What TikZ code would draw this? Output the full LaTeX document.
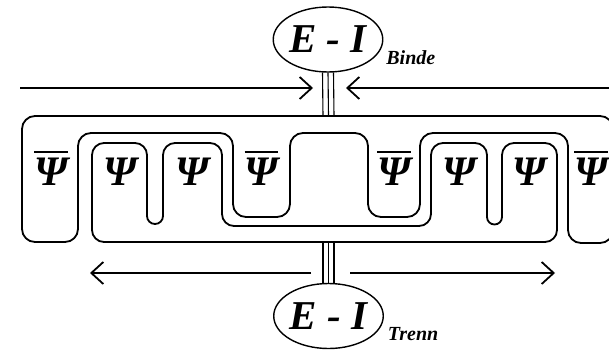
\documentclass[tikz,border=0pt]{standalone}
\usepackage{fontspec}
\setmainfont{Liberation Serif}
\usetikzlibrary{arrows.meta,shapes.geometric}

\newcommand\eifont{\fontsize{41}{41}\selectfont\bfseries\itshape}
\newcommand\psifont{\fontsize{42}{42}\selectfont\bfseries\itshape}
\newcommand\tagfont{\fontsize{20}{20}\selectfont\bfseries\itshape}
\newcommand\psibar{\vbox{\hrule height 2pt\kern 4.5pt\hbox{Ψ}}}

\begin{document}
\begin{tikzpicture}[x=1pt,y=-1pt,line width=1.8pt]
    \tikzstyle{eiring}=[ellipse,draw,line width=1.4pt,minimum width=108pt,
                        minimum height=65pt,inner sep=0pt,font=\eifont]
    \tikzstyle{tag}=[anchor=base west,inner sep=0pt,font=\tagfont]
    \tikzstyle{psi}=[anchor=base,inner sep=0pt,font=\psifont]
    \tikzstyle{strand}=[line width=1.1pt]
    \tikzstyle{pull}=[-{Straight Barb[length=12pt,width=22pt]}]

    \useasboundingbox (0,0) rectangle (609,351);
    \clip (0,0) rectangle (609,351);

    % Outer loop with the three dips
    \draw[rounded corners=13pt]
        (22,116) -- (613,116) -- (613,243) -- (568,243) -- (568,133)
        -- (420,133) -- (420,217) -- (368,217) -- (368,133)
        -- (290,133) -- (290,217) -- (233,217) -- (233,133)
        -- (78,133) -- (78,242) -- (22,242) -- cycle;

    % Inner loop: outer run, middle run, and the two narrow folds
    \draw[rounded corners=12pt]
        (147,216) -- (147,143) -- (92,143) -- (92,242)
        -- (557,242) -- (557,143) -- (502,143) -- (502,217);
    \draw[rounded corners=12pt]
        (163,216) -- (163,143) -- (222,143) -- (222,226) -- (431,226)
        -- (431,143) -- (487,143) -- (487,217);
    \draw (147,216) arc[start angle=180,end angle=360,radius=8pt];
    \draw (487,217) arc[start angle=180,end angle=360,radius=7.5pt];

    % Wave function labels
    \node[psi] (psiA) at (51,185)    {\psibar};
    \node[psi] (psiB) at (120,185)   {Ψ};
    \node[psi] (psiC) at (192.5,185) {Ψ};
    \node[psi] (psiD) at (261.5,185) {\psibar};
    \node[psi] (psiE) at (394,185)   {\psibar};
    \node[psi] (psiF) at (459,185)   {Ψ};
    \node[psi] (psiG) at (529.5,185) {Ψ};
    \node[psi] (psiH) at (591,185)   {\psibar};

    % Binding and separating E-I
    \node[eiring] (bind)  at (328,39.5) {E - I};
    \node[eiring] (trenn) at (328.5,316) {E - I};
    \node[tag] (bindtag)  at ([shift={(2,24.5)}]bind.east)  {Binde};
    \node[tag] (trenntag) at ([shift={(3,24)}]trenn.east)   {Trenn};

    \coordinate (tophub) at (328.5,116);
    \coordinate (bothub) at (328.5,242);
    \foreach \dx in {-5.5,0,5.5} {
        \draw[strand] ([xshift=\dx pt]bind.south) -- ([xshift=\dx pt]tophub);
        \draw[strand] ([xshift=\dx pt]bothub) -- ([xshift=\dx pt]trenn.north);
    }

    % Pushing together above, pulling apart below
    \coordinate (inL)   at (20,88);
    \coordinate (inR)   at (612,88);
    \coordinate (pinL)  at (313,88);
    \coordinate (pinR)  at (346,88);
    \draw[pull] (inL) -- (pinL);
    \draw[pull] (inR) -- (pinR);

    \coordinate (outL)  at (311,273);
    \coordinate (outR)  at (350,273);
    \coordinate (endL)  at (90,273);
    \coordinate (endR)  at (555,273);
    \draw[pull] (outL) -- (endL);
    \draw[pull] (outR) -- (endR);
\end{tikzpicture}
\end{document}
